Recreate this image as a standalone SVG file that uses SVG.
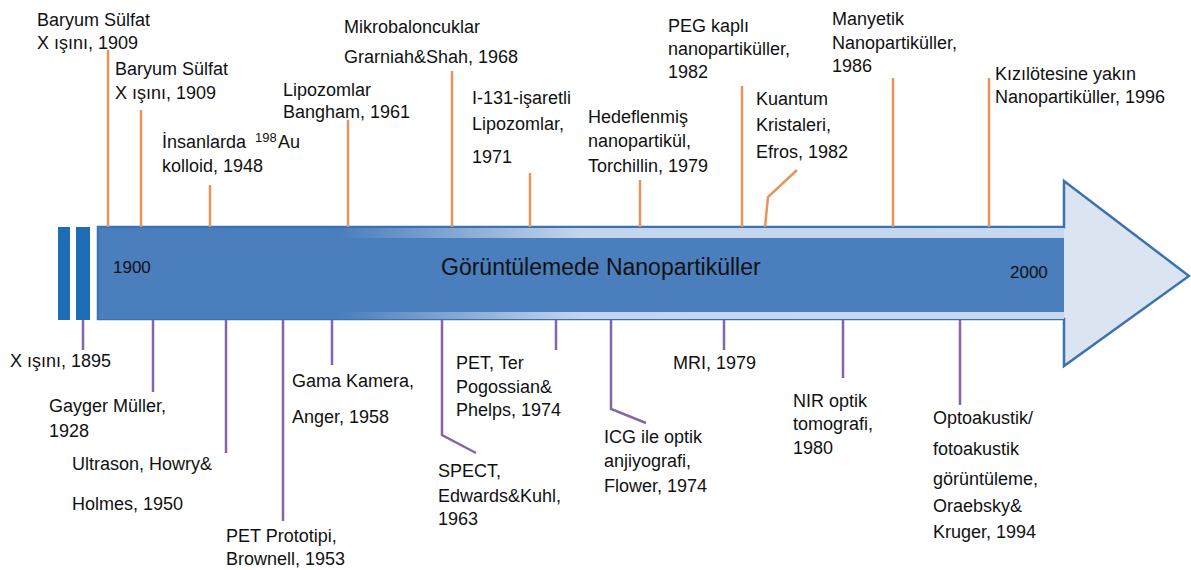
<svg xmlns="http://www.w3.org/2000/svg" width="1191" height="570" viewBox="0 0 1191 570">
<defs>
<style>
text{font-family:"Liberation Sans",Arial,sans-serif;font-size:18px;fill:#111;}
.yr{font-size:17px;}
.title{font-size:23px;}
.o{stroke:#e8935a;stroke-width:2.5;fill:none;}
.p{stroke:#8466a6;stroke-width:2.5;fill:none;}
</style>
<linearGradient id="band" x1="98" y1="0" x2="1064" y2="0" gradientUnits="userSpaceOnUse">
<stop offset="0" stop-color="#4a7ebd"/>
<stop offset="0.25" stop-color="#4a7ebd"/>
<stop offset="0.5" stop-color="#c3d5ec"/>
<stop offset="1" stop-color="#c8d8ee"/>
</linearGradient>
</defs>
<rect width="1191" height="570" fill="#fff"/>
<g id="timeline-arrow">
<polygon points="98,227 1064,227 1064,181 1189,276 1064,366 1064,319 98,319" fill="#dbe5f2" stroke="#3d72b0" stroke-width="2.5" stroke-linejoin="miter"/>
<rect x="99" y="228" width="965" height="10" fill="url(#band)"/>
<rect x="99" y="312" width="965" height="7" fill="url(#band)"/>
<rect x="99" y="238" width="965" height="74" fill="#4a7ebd"/>
<rect x="58" y="227" width="12" height="93" fill="#1d6cb6"/>
<rect x="76" y="227" width="14" height="93" fill="#1d6cb6"/>
<text class="yr" x="113" y="273">1900</text>
<text class="yr" x="1010" y="278">2000</text>
<text class="title" x="441" y="275">Görüntülemede Nanopartiküller</text>
</g>
<g id="connectors">
<line class="o" x1="108" y1="50" x2="108" y2="227"/>
<line class="o" x1="141" y1="110" x2="141" y2="227"/>
<line class="o" x1="210" y1="185" x2="210" y2="227"/>
<line class="o" x1="348" y1="120" x2="348" y2="227"/>
<line class="o" x1="452" y1="71" x2="452" y2="227"/>
<line class="o" x1="530" y1="173" x2="530" y2="227"/>
<line class="o" x1="640" y1="180" x2="640" y2="227"/>
<line class="o" x1="742" y1="86" x2="742" y2="227"/>
<polyline class="o" points="765,227 768,197 797,170"/>
<line class="o" x1="893" y1="78" x2="893" y2="227"/>
<line class="o" x1="989" y1="78" x2="989" y2="227"/>
<line class="p" x1="83" y1="320" x2="83" y2="350"/>
<line class="p" x1="153" y1="320" x2="153" y2="392"/>
<line class="p" x1="226" y1="320" x2="226" y2="453"/>
<line class="p" x1="283" y1="320" x2="283" y2="521"/>
<line class="p" x1="332" y1="320" x2="332" y2="365"/>
<polyline class="p" points="442,320 442,435 476,453"/>
<line class="p" x1="556" y1="320" x2="556" y2="350"/>
<polyline class="p" points="611,320 611,409 646,423"/>
<line class="p" x1="724" y1="320" x2="724" y2="350"/>
<line class="p" x1="843" y1="320" x2="843" y2="378"/>
<line class="p" x1="960" y1="320" x2="960" y2="405"/>
</g>
<g id="n-baryum1"><text x="37" y="26">Baryum Sülfat</text><text x="37" y="49">X ışını, 1909</text></g>
<g id="n-baryum2"><text x="115" y="75">Baryum Sülfat</text><text x="115" y="99">X ışını, 1909</text></g>
<g id="n-au"><text x="162" y="148">İnsanlarda<tspan x="255" dy="-6" font-size="13">198</tspan><tspan x="278" dy="6">Au</tspan></text><text x="162" y="172">kolloid, 1948</text></g>
<g id="n-lipozom"><text x="283" y="96">Lipozomlar</text><text x="283" y="118">Bangham, 1961</text></g>
<g id="n-mikro"><text x="344" y="33">Mikrobaloncuklar</text><text x="344" y="63">Grarniah&amp;Shah, 1968</text></g>
<g id="n-i131"><text x="472" y="104">I-131-işaretli</text><text x="472" y="130">Lipozomlar,</text><text x="472" y="163">1971</text></g>
<g id="n-hedef"><text x="588" y="123">Hedeflenmiş</text><text x="588" y="147">nanopartikül,</text><text x="588" y="172">Torchillin, 1979</text></g>
<g id="n-peg"><text x="668" y="32">PEG kaplı</text><text x="668" y="55">nanopartiküller,</text><text x="668" y="78">1982</text></g>
<g id="n-kuantum"><text x="756" y="105">Kuantum</text><text x="756" y="131">Kristaleri,</text><text x="756" y="158">Efros, 1982</text></g>
<g id="n-manyetik"><text x="832" y="25">Manyetik</text><text x="832" y="49">Nanopartiküller,</text><text x="832" y="72">1986</text></g>
<g id="n-kizil"><text x="995" y="80">Kızılötesine yakın</text><text x="995" y="103">Nanopartiküller, 1996</text></g>
<g id="n-xray"><text x="10" y="367">X ışını, 1895</text></g>
<g id="n-gayger"><text x="49" y="412">Gayger Müller,</text><text x="49" y="437">1928</text></g>
<g id="n-ultrason"><text x="72" y="470">Ultrason, Howry&amp;</text><text x="72" y="510">Holmes, 1950</text></g>
<g id="n-petproto"><text x="226" y="542">PET Prototipi,</text><text x="226" y="565">Brownell, 1953</text></g>
<g id="n-gama"><text x="292" y="387">Gama Kamera,</text><text x="292" y="423">Anger, 1958</text></g>
<g id="n-spect"><text x="438" y="477">SPECT,</text><text x="438" y="502">Edwards&amp;Kuhl,</text><text x="438" y="525">1963</text></g>
<g id="n-petter"><text x="456" y="369">PET, Ter</text><text x="456" y="393">Pogossian&amp;</text><text x="456" y="416">Phelps, 1974</text></g>
<g id="n-icg"><text x="604" y="443">ICG ile optik</text><text x="604" y="467">anjiyografi,</text><text x="604" y="492">Flower, 1974</text></g>
<g id="n-mri"><text x="673" y="369">MRI, 1979</text></g>
<g id="n-nir"><text x="793" y="407">NIR optik</text><text x="793" y="430">tomografi,</text><text x="793" y="454">1980</text></g>
<g id="n-opto"><text x="933" y="424">Optoakustik/</text><text x="933" y="455">fotoakustik</text><text x="933" y="485">görüntüleme,</text><text x="933" y="512">Oraebsky&amp;</text><text x="933" y="538">Kruger, 1994</text></g>
</svg>
